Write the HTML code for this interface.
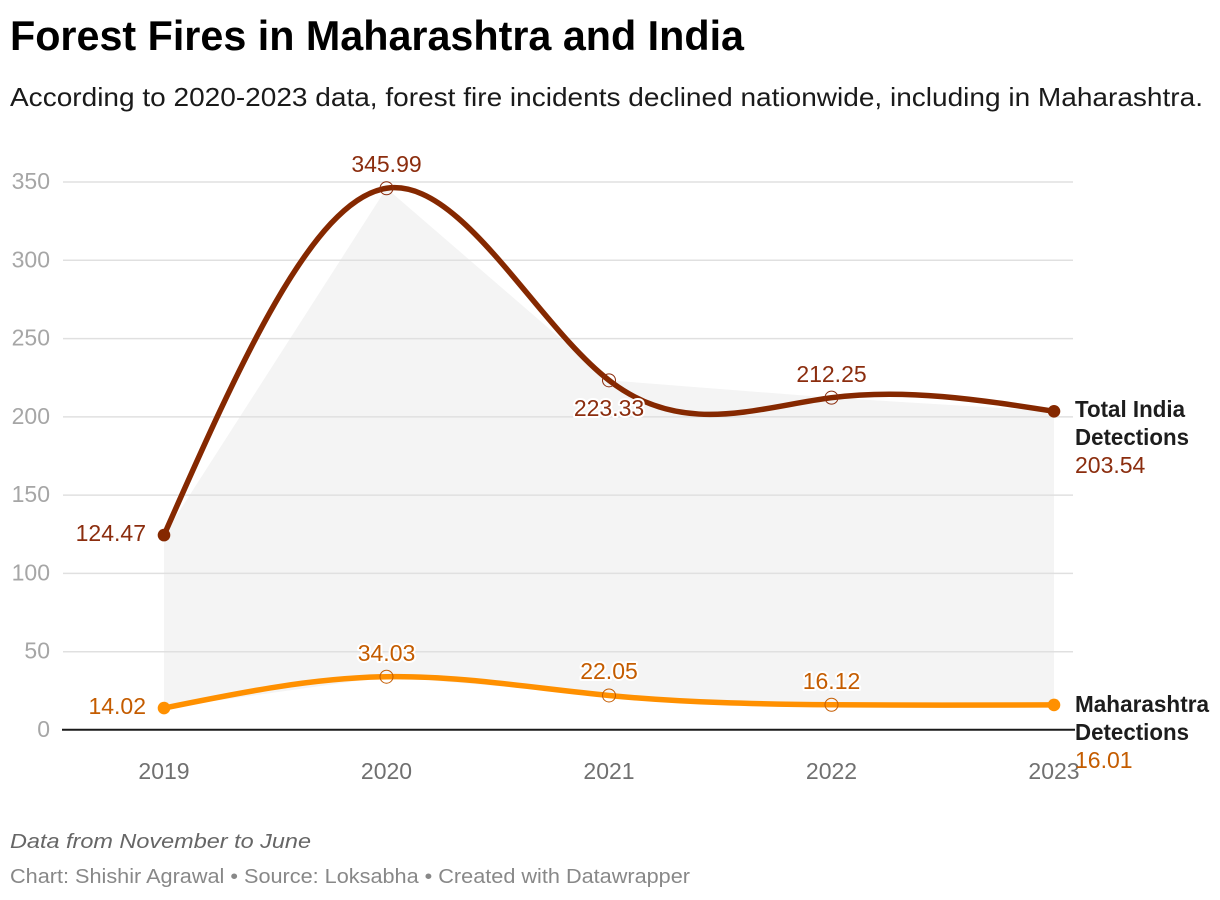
<!DOCTYPE html>
<html>
<head>
<meta charset="utf-8">
<style>
  html, body { margin: 0; padding: 0; background: #ffffff; }
  body { width: 1220px; height: 900px; overflow: hidden; }
  svg { display: block; }
  text { font-family: "Liberation Sans", Arial, sans-serif; }
</style>
</head>
<body>
<svg width="1220" height="900" viewBox="0 0 1220 900" xmlns="http://www.w3.org/2000/svg">
  <!-- Title & subtitle -->
  <text x="10" y="50" font-size="42" font-weight="bold" fill="#000000" textLength="734" lengthAdjust="spacingAndGlyphs">Forest Fires in Maharashtra and India</text>
  <text x="10" y="106" font-size="26" fill="#1a1a1a" textLength="1193" lengthAdjust="spacingAndGlyphs">According to 2020-2023 data, forest fire incidents declined nationwide, including in Maharashtra.</text>

  <!-- Area between series -->
  <polygon points="164,535.11 386.5,188.28 609,380.33 831.5,397.68 1054,411.31 1054,704.93 831.5,704.76 609,695.48 386.5,676.72 164,708.05" fill="#f4f4f4"/>

  <!-- Gridlines -->
  <g stroke="#e0e0e0" stroke-width="1.5">
    <line x1="63" y1="182" x2="1073" y2="182"/>
    <line x1="63" y1="260.3" x2="1073" y2="260.3"/>
    <line x1="63" y1="338.6" x2="1073" y2="338.6"/>
    <line x1="63" y1="416.9" x2="1073" y2="416.9"/>
    <line x1="63" y1="495.1" x2="1073" y2="495.1"/>
    <line x1="63" y1="573.4" x2="1073" y2="573.4"/>
    <line x1="63" y1="651.7" x2="1073" y2="651.7"/>
  </g>
  <line x1="62" y1="729.8" x2="1075" y2="729.8" stroke="#1a1a1a" stroke-width="2"/>

  <!-- Y tick labels -->
  <g font-size="23" fill="#a6a6a6" text-anchor="end">
    <text x="50" y="189">350</text>
    <text x="50" y="267.3">300</text>
    <text x="50" y="345.6">250</text>
    <text x="50" y="423.9">200</text>
    <text x="50" y="502.1">150</text>
    <text x="50" y="580.4">100</text>
    <text x="50" y="658.7">50</text>
    <text x="50" y="737">0</text>
  </g>

  <!-- X tick labels -->
  <g font-size="23" fill="#707070" text-anchor="middle">
    <text x="164" y="779">2019</text>
    <text x="386.5" y="779">2020</text>
    <text x="609" y="779">2021</text>
    <text x="831.5" y="779">2022</text>
    <text x="1054" y="779">2023</text>
  </g>

  <!-- India line -->
  <path d="M164,535.11 C238.17,367.25 312.33,199.38 386.5,188.28 C460.67,177.18 534.83,322.82 609,380.33 C683.17,437.84 757.33,407.20 831.5,397.68 C905.67,388.16 979.83,399.73 1054,411.31" fill="none" stroke="#852800" stroke-width="5.5" stroke-linecap="round"/>
  <!-- Maharashtra line -->
  <path d="M164,708.05 C238.17,692.96 312.33,677.88 386.5,676.72 C460.67,675.56 534.83,688.34 609,695.48 C683.17,702.62 757.33,704.12 831.5,704.76 C905.67,705.40 979.83,705.17 1054,704.93" fill="none" stroke="#ff9000" stroke-width="5.5" stroke-linecap="round"/>

  <!-- Markers -->
  <circle cx="164" cy="535.11" r="6.3" fill="#852800"/>
  <circle cx="1054" cy="411.31" r="6.3" fill="#852800"/>
  <circle cx="164" cy="708.05" r="6.3" fill="#ff9000"/>
  <circle cx="1054" cy="704.93" r="6.3" fill="#ff9000"/>
  <g fill="none" stroke="#8b2d0e" stroke-width="1">
    <circle cx="386.5" cy="188.28" r="6.5"/>
    <circle cx="609" cy="380.33" r="6.5"/>
    <circle cx="831.5" cy="397.68" r="6.5"/>
  </g>
  <g fill="none" stroke="#c45c00" stroke-width="1">
    <circle cx="386.5" cy="676.72" r="6.5"/>
    <circle cx="609" cy="695.48" r="6.5"/>
    <circle cx="831.5" cy="704.76" r="6.5"/>
  </g>

  <!-- Data labels India -->
  <g font-size="23" fill="#8b2d0e" stroke="#ffffff" stroke-width="4" paint-order="stroke" stroke-linejoin="round">
    <text x="386.5" y="172" text-anchor="middle">345.99</text>
    <text x="146" y="541" text-anchor="end">124.47</text>
    <text x="609" y="416" text-anchor="middle">223.33</text>
    <text x="831.5" y="382" text-anchor="middle">212.25</text>
  </g>
  <!-- Data labels Maharashtra -->
  <g font-size="23" fill="#c45c00" stroke="#ffffff" stroke-width="4" paint-order="stroke" stroke-linejoin="round">
    <text x="386.5" y="661" text-anchor="middle">34.03</text>
    <text x="146" y="714" text-anchor="end">14.02</text>
    <text x="609" y="679" text-anchor="middle">22.05</text>
    <text x="831.5" y="689" text-anchor="middle">16.12</text>
  </g>

  <!-- Right-side series labels -->
  <g font-size="23" font-weight="bold" fill="#1d1d1d">
    <text x="1075" y="417" textLength="110" lengthAdjust="spacingAndGlyphs">Total India</text>
    <text x="1075" y="445" textLength="114" lengthAdjust="spacingAndGlyphs">Detections</text>
    <text x="1075" y="712" textLength="134" lengthAdjust="spacingAndGlyphs">Maharashtra</text>
    <text x="1075" y="740" textLength="114" lengthAdjust="spacingAndGlyphs">Detections</text>
  </g>
  <text x="1075" y="473" font-size="23" fill="#8b2d0e">203.54</text>
  <text x="1075" y="768" font-size="23" fill="#c45c00">16.01</text>

  <!-- Footer -->
  <text x="10" y="848" font-size="20" font-style="italic" fill="#666666" textLength="301" lengthAdjust="spacingAndGlyphs">Data from November to June</text>
  <text x="10" y="883" font-size="20" fill="#888888" textLength="680" lengthAdjust="spacingAndGlyphs">Chart: Shishir Agrawal • Source: Loksabha • Created with Datawrapper</text>
</svg>
</body>
</html>
